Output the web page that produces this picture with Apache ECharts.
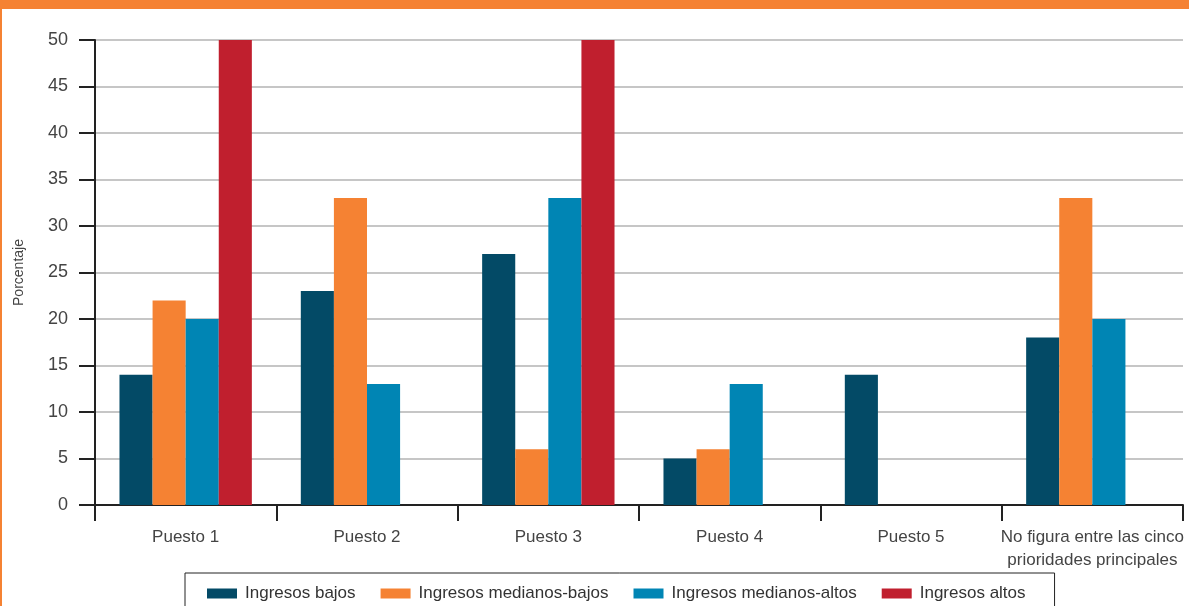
<!DOCTYPE html>
<html lang="es">
<head>
    <meta charset="UTF-8">
    <title>Porcentaje por puesto</title>
    <script src="https://cdn.jsdelivr.net/npm/echarts@6/dist/echarts.min.js"></script>
    <style>
        html, body { margin: 0; padding: 0; background: #fff; }
        #main { width: 1189px; height: 606px; }
    </style>
</head>
<body>
<div id="main"></div>
<script>
    // categorias y valores
    var categories = ['Puesto 1', 'Puesto 2', 'Puesto 3', 'Puesto 4', 'Puesto 5', 'No figura entre las cinco\nprioridades principales'];
    var seriesNames = ['Ingresos bajos', 'Ingresos medianos-bajos', 'Ingresos medianos-altos', 'Ingresos altos'];
    var bajos = [14, 23, 27, 5, 14, 18];
    var medianosBajos = [22, 33, 6, 6, 0, 33];
    var medianosAltos = [20, 13, 33, 13, 0, 20];
    var altos = [50, 0, 50, 0, 0, 0];
    var colors = ['#034a66', '#f58233', '#0085b4', '#c01f2e'];

    var allData = [bajos, medianosBajos, medianosAltos, altos];
    var series = [];
    for (var i = 0; i < seriesNames.length; i++) {
        series.push({
            name: seriesNames[i],
            type: 'bar',
            data: allData[i],
            barGap: '0%',
            barCategoryGap: '27%',
            itemStyle: { color: colors[i] }
        });
    }

    var font = 'Liberation Sans, Arial, sans-serif';
    var option = {
        animation: false,
        textStyle: { fontFamily: font },
        color: colors,
        graphic: [
            { type: 'rect', left: 0, top: 0, shape: { width: 1189, height: 9 }, style: { fill: '#f58233' } },
            { type: 'rect', left: 0, top: 0, shape: { width: 2, height: 606 }, style: { fill: '#f58233' } }
        ],
        grid: { left: 95, right: 6, top: 40, bottom: 101, containLabel: false, outerBoundsMode: 'none' },
        legend: {
            left: 185,
            top: 573,
            padding: [12, 29, 12, 22],
            borderColor: '#222',
            borderWidth: 1,
            itemWidth: 30,
            itemHeight: 10,
            itemGap: 25,
            icon: 'rect',
            textStyle: { fontSize: 17, color: '#333', fontFamily: font, padding: [0, 0, 0, 3] },
            data: seriesNames
        },
        xAxis: {
            type: 'category',
            data: categories,
            axisLine: { lineStyle: { color: '#222', width: 2 } },
            axisTick: { show: true, length: 16, interval: 0, lineStyle: { color: '#222', width: 2 } },
            axisLabel: { fontSize: 17, color: '#444', margin: 21, lineHeight: 23, interval: 0 }
        },
        yAxis: {
            type: 'value',
            min: 0,
            max: 50,
            interval: 5,
            name: 'Porcentaje',
            nameLocation: 'middle',
            nameRotate: 90,
            nameGap: 69,
            nameTextStyle: { fontSize: 14, color: '#444' },
            axisLine: { show: true, lineStyle: { color: '#222', width: 2 } },
            axisTick: { show: true, length: 16, lineStyle: { color: '#222', width: 2 } },
            axisLabel: { fontSize: 18, color: '#444', margin: 27 },
            splitLine: { lineStyle: { color: '#b3b3b3', width: 1.5 } }
        },
        series: series
    };
    echarts.init(document.getElementById('main')).setOption(option);
</script>
</body>
</html>
